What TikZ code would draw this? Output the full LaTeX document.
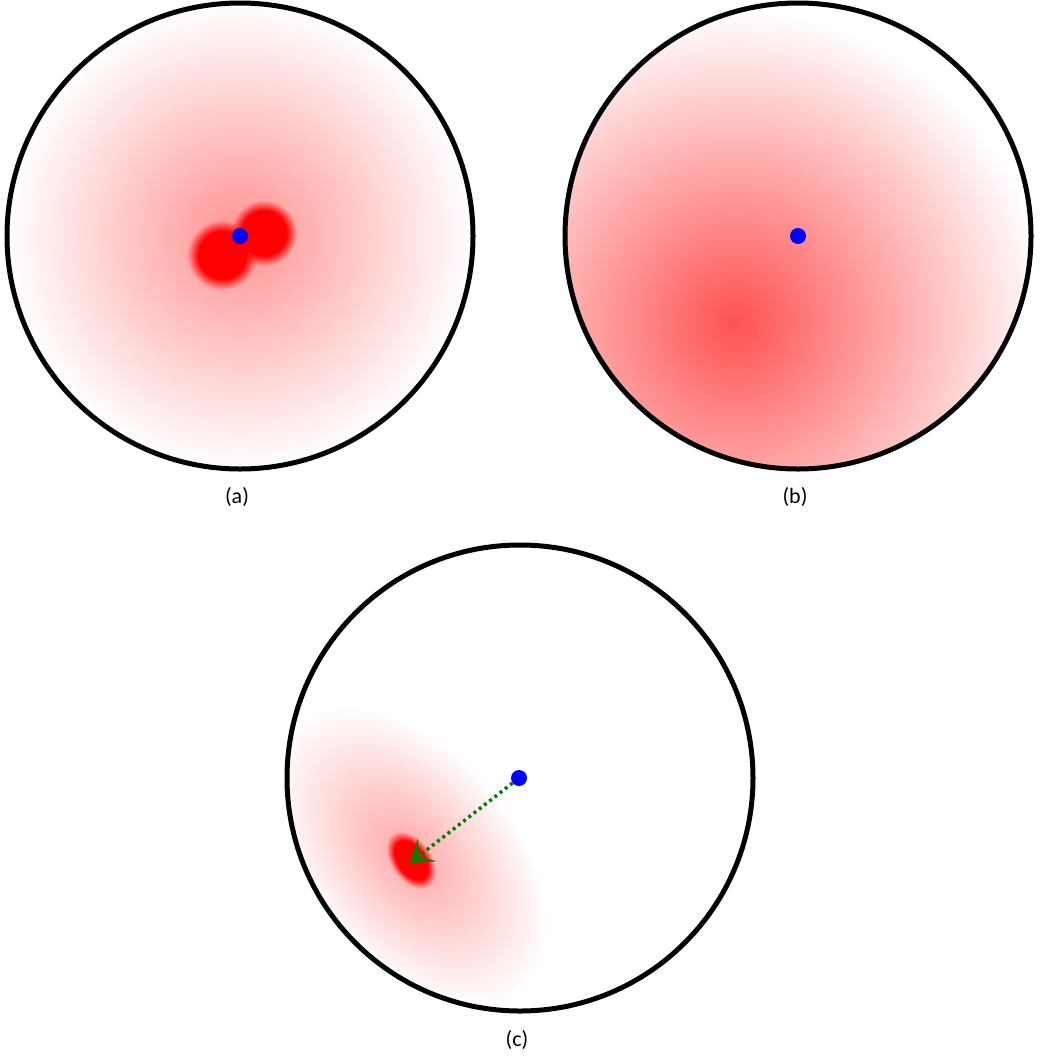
\documentclass[tikz,border=0pt]{standalone}
\usepackage{fontspec}
\setmainfont{Carlito}
\usetikzlibrary{fadings,arrows.meta}
\pgfdeclareradialshading{shA}{\pgfpointorigin}{color(0bp)=(red!43); color(25bp)=(white); color(50bp)=(white)}
\pgfdeclareradialshading{shB}{\pgfpointorigin}{color(0bp)=(red!68); color(25bp)=(white); color(50bp)=(white)}
\pgfdeclareradialshading{shC}{\pgfpointorigin}{color(0bp)=(red!35); color(25bp)=(white); color(50bp)=(white)}
\pgfdeclareradialshading{fuzzshade}{\pgfpointorigin}{color(0bp)=(pgftransparent!0); color(17bp)=(pgftransparent!0); color(25bp)=(pgftransparent!100); color(50bp)=(pgftransparent!100)}
\pgfdeclarefading{fuzzy}{\pgfuseshading{fuzzshade}}
\definecolor{arrowgreen}{RGB}{0,128,0}
\tikzset{
  ring/.style={draw=black, line width=5pt},
  bluedot/.style={circle, fill=blue, inner sep=0pt, minimum size=16pt},
  sublabel/.style={font=\fontsize{22}{26}\selectfont, inner sep=0pt},
  blob/.style={fill=red, path fading=fuzzy},
  gradarrow/.style={draw=arrowgreen, line width=3.5pt, dash pattern=on 3pt off 3.6pt,
     -{Stealth[length=22pt,width=30pt,inset=11pt]}}
}
\begin{document}
\begin{tikzpicture}[x=1pt,y=-1pt]
\useasboundingbox (0,0) rectangle (1045,1058);
% (a)
\shade[shading=shA] (240,236) circle (233);
\fill[blob] (264,233) circle (33);
\fill[blob] (222,255) circle (35);
\node[bluedot] (adot) at (240,236) {};
\node[ring, circle, minimum size=466pt, inner sep=0pt] (acirc) at (240,236) {};
\node[sublabel] (alab) at (237,497) {(a)};
% (b)
\begin{scope}
  \clip (798,236) circle (233);
  \shade[shading=shB] (735,322) circle (312);
\end{scope}
\node[bluedot] (bdot) at (798,236) {};
\node[ring, circle, minimum size=466pt, inner sep=0pt] (bcirc) at (798,236) {};
\node[sublabel] (blab) at (795,497) {(b)};
% (c)
\begin{scope}
  \clip (520,778) circle (233);
  \begin{scope}[transform canvas={rotate around={-50:(410,856)}}]
    \shade[shading=shC] (410,856) ellipse [x radius=175, y radius=106];
  \end{scope}
  \begin{scope}[transform canvas={rotate around={-55:(411,860)}}]
    \fill[blob] (411,860) ellipse [x radius=32, y radius=20];
  \end{scope}
\end{scope}
\node[bluedot] (cdot) at (519,778) {};
\coordinate (ctip) at (410,863);
\draw[gradarrow] (cdot) -- (ctip);
\node[ring, circle, minimum size=466pt, inner sep=0pt] (ccirc) at (520,778) {};
\node[sublabel] (clab) at (517,1040) {(c)};
\end{tikzpicture}
\end{document}
